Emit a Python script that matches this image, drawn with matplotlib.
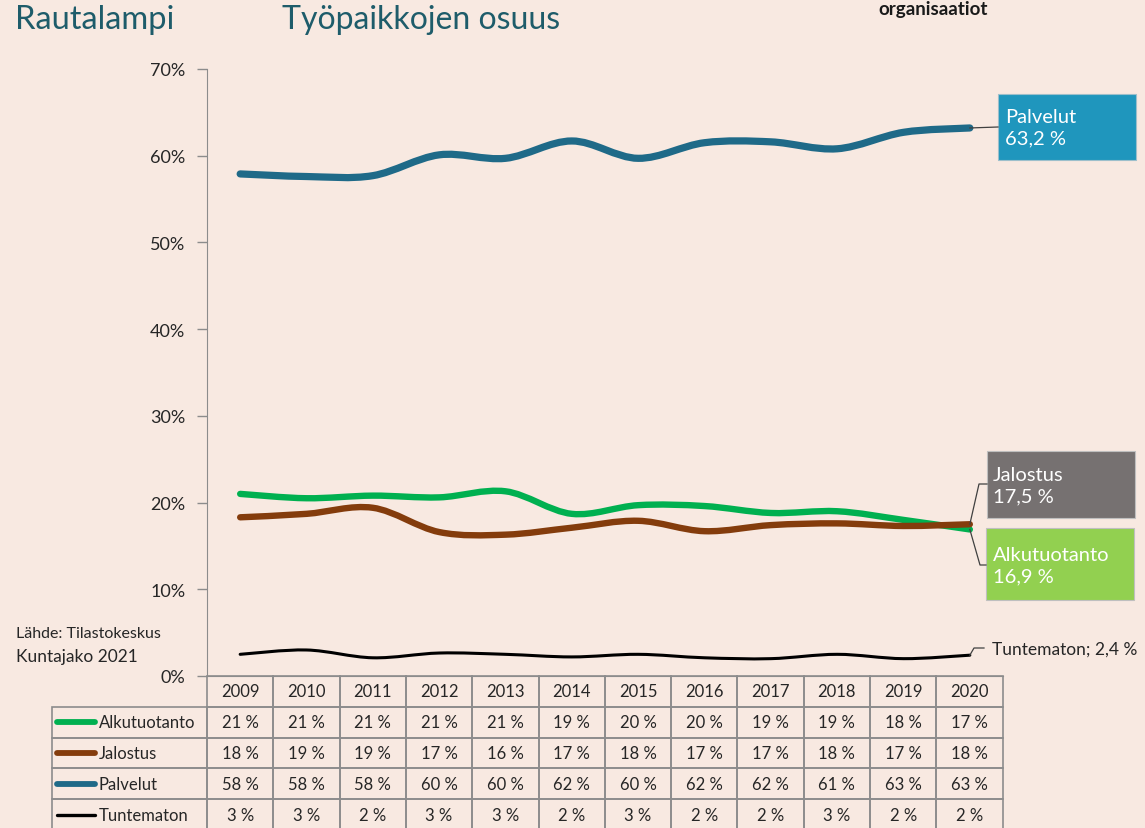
import numpy as np
import matplotlib.pyplot as plt
from matplotlib.path import Path
from matplotlib.patches import PathPatch, Rectangle
from matplotlib.lines import Line2D

plt.rcParams['font.family'] = ['Lato', 'DejaVu Sans']

# data (osuus työpaikoista, %)
years = ['2009', '2010', '2011', '2012', '2013', '2014',
         '2015', '2016', '2017', '2018', '2019', '2020']
alkutuotanto = [21.0, 20.5, 20.8, 20.6, 21.3, 18.7, 19.7, 19.6, 18.8, 19.0, 18.0, 16.9]
jalostus = [18.3, 18.7, 19.4, 16.6, 16.3, 17.1, 17.9, 16.7, 17.4, 17.6, 17.3, 17.5]
palvelut = [57.9, 57.6, 57.7, 60.1, 59.7, 61.7, 59.7, 61.5, 61.6, 60.8, 62.7, 63.2]
tuntematon = [2.5, 3.0, 2.1, 2.65, 2.5, 2.2, 2.5, 2.1, 2.0, 2.5, 2.0, 2.4]

names = ['Alkutuotanto', 'Jalostus', 'Palvelut', 'Tuntematon']
values = [alkutuotanto, jalostus, palvelut, tuntematon]
colors = ['#00B050', '#843C0C', '#1F6A88', '#000000']
widths = [4.6, 4.6, 5.2, 2.2]

BG = '#F8E9E1'
W, H = 1145, 829


def fx(px):
    return px / W


def fy(py):
    return 1 - py / H


def smooth_path(y):
    # excel-tyylinen pehmennetty viiva (bezier)
    pts = np.column_stack([np.arange(len(y), dtype=float), np.asarray(y, float)])
    ext = np.vstack([pts[0], pts, pts[-1]])
    verts = [pts[0]]
    codes = [Path.MOVETO]
    for i in range(len(pts) - 1):
        p0, p1, p2, p3 = ext[i], ext[i + 1], ext[i + 2], ext[i + 3]
        verts += [p1 + (p2 - p0) / 6, p2 - (p3 - p1) / 6, p2]
        codes += [Path.CURVE4] * 3
    return Path(verts, codes)


def pct(v):
    return f'{int(v + 0.5)} %'


fig = plt.figure(figsize=(W / 100, H / 100), dpi=100, facecolor=BG)
ax = fig.add_axes([fx(207), fy(677), 796 / W, 607 / H])
ax.set_facecolor('none')

for name, vals, col, lw in zip(names, values, colors, widths):
    patch = PathPatch(smooth_path(vals), facecolor='none', edgecolor=col,
                      lw=lw, capstyle='round', joinstyle='round')
    ax.add_patch(patch)

ax.set_xlim(-0.5, len(years) - 0.5)
ax.set_ylim(0, 70)
ax.set_yticks(range(0, 71, 10))
ax.set_yticklabels([f'{v}%' for v in range(0, 71, 10)])
ax.set_xticks([])
ax.tick_params(axis='y', length=7.5, width=1, color='#8C8C8C', pad=8,
               labelsize=13, labelcolor='#262626')
for s in ['top', 'right']:
    ax.spines[s].set_visible(False)
ax.spines['left'].set_color('#8C8C8C')
ax.spines['bottom'].set_color('#8C8C8C')

# taulukko: ensimmäinen sarake = sarjojen nimet
cell_text = [[n] + [pct(v) for v in vals] for n, vals in zip(names, values)]
col_w = [155] + [66.3] * 12
tbl = ax.table(cellText=cell_text, colLabels=[''] + years,
               colWidths=[w / sum(col_w) for w in col_w], cellLoc='center',
               bbox=[(52 - 207) / 796, -(831 - 677) / 607, sum(col_w) / 796,
                     (831 - 677) / 607])
tbl.auto_set_font_size(False)
tbl.set_fontsize(12)
for (r, c), cell in tbl.get_celld().items():
    cell.set_facecolor('none')
    cell.set_edgecolor('#8C8C8C')
    cell.set_linewidth(1.2)
    cell.get_text().set_color('#262626')
    if c == 0:
        if r == 0:
            cell.set_visible(False)
        cell._loc = 'left'
        cell.PAD = 0.3
        cell.get_text().set_horizontalalignment('left')

# selitteen viivat taulukossa
row_h = (831 - 677) / 5
for i, (col, lw) in enumerate(zip(colors, widths)):
    yc = 677 + row_h * (i + 1.5)
    fig.add_artist(Line2D([fx(57), fx(95)], [fy(yc), fy(yc)], color=col,
                          lw=4.2 if i < 3 else 2.4,
                          solid_capstyle='round', transform=fig.transFigure))


def data_to_fig(x, y):
    return fig.transFigure.inverted().transform(ax.transData.transform((x, y)))


last = len(years) - 1
conn = dict(color='#404040', lw=0.9, transform=fig.transFigure)

# Palvelut
sx, sy = data_to_fig(last, palvelut[-1])
fig.add_artist(Line2D([sx, fx(998)], [sy, fy(128)], **conn))
fig.add_artist(Rectangle((fx(998), fy(161)), 138 / W, 66 / H, transform=fig.transFigure,
                         facecolor='#1F96BD', edgecolor='#9DBFCB', lw=0.8))
fig.text(fx(1005), fy(128), f'Palvelut\n{palvelut[-1]:.1f} %'.replace('.', ','),
         color='white', fontsize=14.5, va='center', ha='left', linespacing=1.35)

# Jalostus
sx, sy = data_to_fig(last, jalostus[-1])
fig.add_artist(Line2D([sx, fx(979), fx(987)], [sy, fy(485), fy(485)], **conn))
fig.add_artist(Rectangle((fx(987), fy(519)), 148 / W, 67 / H, transform=fig.transFigure,
                         facecolor='#767171', edgecolor='#BFBFBF', lw=0.8))
fig.text(fx(993), fy(486), f'Jalostus\n{jalostus[-1]:.1f} %'.replace('.', ','),
         color='white', fontsize=14.5, va='center', ha='left', linespacing=1.35)

# Alkutuotanto
sx, sy = data_to_fig(last, alkutuotanto[-1])
fig.add_artist(Line2D([sx, fx(980), fx(986)], [sy, fy(566), fy(566)], **conn))
fig.add_artist(Rectangle((fx(986), fy(601)), 148 / W, 72 / H, transform=fig.transFigure,
                         facecolor='#92D050', edgecolor='#BFBFBF', lw=0.8))
fig.text(fx(993), fy(566), f'Alkutuotanto\n{alkutuotanto[-1]:.1f} %'.replace('.', ','),
         color='white', fontsize=14.5, va='center', ha='left', linespacing=1.35)

# Tuntematon
sx, sy = data_to_fig(last, tuntematon[-1])
fig.add_artist(Line2D([sx, fx(974), fx(984)], [sy, fy(649), fy(649)], **conn))
fig.text(fx(992), fy(650), f'Tuntematon; {tuntematon[-1]:.1f} %'.replace('.', ','),
         color='#262626', fontsize=12.5, va='center', ha='left')

# otsikot ja lähde
fig.text(fx(15), fy(20), 'Rautalampi', color='#1E5C6A', fontsize=23.5, va='center', ha='left')
fig.text(fx(282), fy(20), 'Työpaikkojen osuus', color='#1E5C6A', fontsize=23,
         va='center', ha='left')
fig.text(fx(878), fy(9), 'organisaatiot', color='#1A1A1A', fontsize=13.5,
         fontweight='bold', va='center', ha='left')
fig.text(fx(16), fy(634), 'Lähde: Tilastokeskus', color='#262626', fontsize=11.5,
         va='center', ha='left')
fig.text(fx(16), fy(657), 'Kuntajako 2021', color='#262626', fontsize=12.5,
         va='center', ha='left')

fig.savefig('out.png', dpi=100, facecolor=BG)
